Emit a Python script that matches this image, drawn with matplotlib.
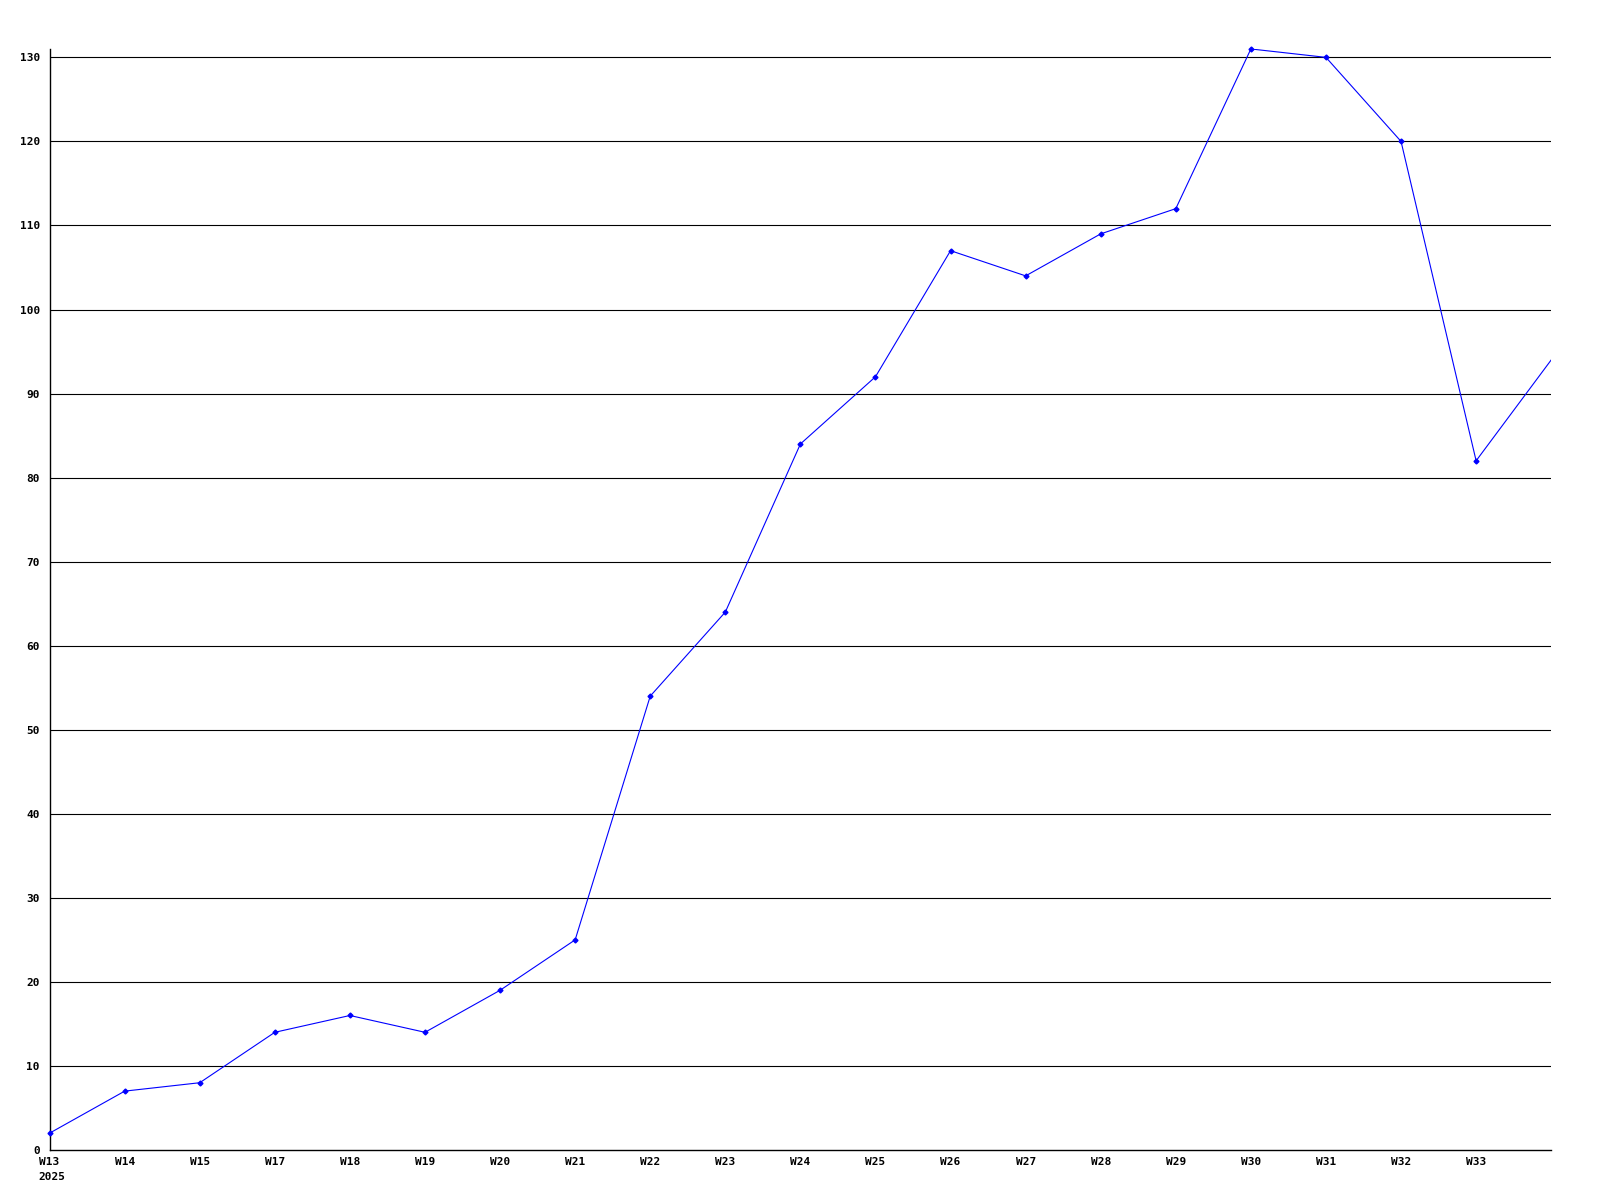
import matplotlib.pyplot as plt

# weekly values, W16 is absent in the source chart
weeks = ["W13", "W14", "W15", "W17", "W18", "W19", "W20", "W21", "W22", "W23",
         "W24", "W25", "W26", "W27", "W28", "W29", "W30", "W31", "W32", "W33", "W34"]
values = [2, 7, 8, 14, 16, 14, 19, 25, 54, 64,
          84, 92, 107, 104, 109, 112, 131, 130, 120, 82, 94]
yticks = list(range(0, 131, 10))

fig = plt.figure(figsize=(16, 12), dpi=100)
ax = fig.add_axes([0.031, 0.0417, 0.9385, 0.9175])

x = list(range(len(weeks)))
ax.plot(x, values, color="#0000ff", linewidth=0.8, zorder=3)
# last week sits on the right edge without a visible marker
ax.plot(x[:-1], values[:-1], linestyle="none", marker="D", markersize=2.5,
        color="#0000ff", clip_on=False, zorder=4)

ax.set_xlim(0, len(weeks) - 1)
ax.set_ylim(0, 131)

for y in yticks[1:]:
    ax.axhline(y, color="black", linewidth=0.8, zorder=1)

for s in ("top", "right"):
    ax.spines[s].set_visible(False)
for s in ("left", "bottom"):
    ax.spines[s].set_linewidth(1.0)

font = dict(family="DejaVu Sans Mono", weight="bold", size=8)
ax.set_yticks(yticks)
ax.set_yticklabels([str(v) for v in yticks], **font)
ax.set_xticks(x[:-1])
ax.set_xticklabels(weeks[:-1], ha="center", va="top", **font)
ax.tick_params(axis="y", length=0, pad=7)
ax.tick_params(axis="x", length=0, pad=5)

# year below the first week label
ax.annotate("2025", xy=(0, 0), xycoords="data", xytext=(-8, -16),
            textcoords="offset points", ha="left", va="top", **font)

fig.savefig("out.png", dpi=100, facecolor="white")
